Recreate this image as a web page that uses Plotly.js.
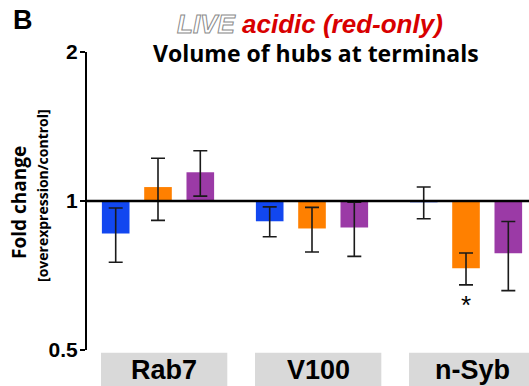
<!DOCTYPE html>
<html>
<head>
<meta charset="utf-8">
<script src="https://cdn.plot.ly/plotly-3.0.1.min.js"></script>
<style>html,body{margin:0;padding:0;background:#fff;}#chart{width:529px;height:386px;}</style>
</head>
<body>
<div id="chart"></div>
<script>
const categories = ['Rab7', 'V100', 'n-Syb'];
const seriesNames = ['blue', 'orange', 'purple'];
const blueVals = [0.86, 0.91, 0.994];
const blueErr = [0.108, 0.063, 0.073];
const orangeVals = [1.067, 0.88, 0.731];
const orangeErr = [0.153, 0.091, 0.054];
const purpleVals = [1.143, 0.884, 0.784];
const purpleErr = [0.12, 0.111, 0.125];
const yTicks = [0.5, 1, 2];
const yTickText = ['0.5', '1', '2'];
const baseline = 1;
const sigCategory = 'n-Syb';

const colors = ['#1247f0', '#ff8000', '#9b3aa6'];
const vals = [blueVals, orangeVals, purpleVals];
const errs = [blueErr, orangeErr, purpleErr];

const traces = vals.map((v, k) => ({
  type: 'bar',
  name: seriesNames[k],
  x: categories,
  y: v.map(d => d - baseline),
  base: baseline,
  marker: {color: colors[k], line: {width: 0}},
  error_y: {type: 'data', array: errs[k], visible: true, color: '#1a1a1a', thickness: 1.6, width: 7},
  hoverinfo: 'skip'
}));

const arial = 'Arial, "Liberation Sans", sans-serif';
const humanist = '"Open Sans", Lato, sans-serif';
const yMin = Math.log10(yTicks[0]), yMax = Math.log10(yTicks[yTicks.length - 1]);
const basePaper = (Math.log10(baseline) - yMin) / (yMax - yMin);
const shapes = [
  {type: 'line', xref: 'paper', x0: 0, x1: 1, yref: 'paper', y0: basePaper, y1: basePaper,
   line: {color: '#000', width: 2.5}, layer: 'above'}
];
const annotations = [];
categories.forEach((c, i) => {
  shapes.push({type: 'rect', xref: 'x', x0: i - 0.37, x1: i + 0.45, yref: 'paper', y0: -0.125, y1: -0.009,
    fillcolor: '#d9d9d9', line: {width: 0}, layer: 'below'});
  annotations.push({xref: 'x', x: i + 0.04, yref: 'paper', y: -0.068, yanchor: 'middle', xanchor: 'center',
    text: '<b>' + c + '</b>', showarrow: false, font: {family: arial, size: 27, color: '#000'}});
});
const sigIdx = categories.indexOf(sigCategory);
annotations.push({xref: 'x', x: sigCategory, yref: 'y', y: Math.log10(orangeVals[sigIdx] - orangeErr[sigIdx]),
  yanchor: 'top', yshift: -3, text: '*', showarrow: false,
  font: {family: arial, size: 26, color: '#000'}});
annotations.push({xref: 'paper', x: -0.144, yref: 'paper', y: 1.107, xanchor: 'center', yanchor: 'middle',
  text: '<b>B</b>', showarrow: false, font: {family: arial, size: 27, color: '#000'}});
annotations.push({xref: 'paper', x: (310 - 87) / 442, yref: 'paper', y: (350 - 24) / 298, xanchor: 'center', yanchor: 'middle',
  text: '<i><b><span style="fill:#ffffff;stroke:#8a8a8a;stroke-width:1px">LIVE</span> <span style="fill:#d80000">acidic (red-only)</span></b></i>',
  showarrow: false, font: {family: arial, size: 26, color: '#d80000'}});
annotations.push({xref: 'paper', x: (316 - 87) / 442, yref: 'paper', y: (350 - 53) / 298, xanchor: 'center', yanchor: 'middle',
  text: '<b>Volume of hubs at terminals</b>', showarrow: false,
  font: {family: humanist, size: 23, color: '#000'}});
annotations.push({xref: 'paper', x: (19 - 87) / 442, yref: 'paper', y: (350 - 203) / 298, xanchor: 'center', yanchor: 'middle',
  textangle: -90, text: '<b>Fold change</b>', showarrow: false,
  font: {family: humanist, size: 19, color: '#000'}});
annotations.push({xref: 'paper', x: (42 - 87) / 442, yref: 'paper', y: (350 - 196) / 298, xanchor: 'center', yanchor: 'middle',
  textangle: -90, text: '<b>[overexpression/control]</b>', showarrow: false,
  font: {family: humanist, size: 14, color: '#000'}});

const layout = {
  width: 529, height: 386,
  margin: {l: 87, r: 0, t: 52, b: 36},
  paper_bgcolor: '#fff', plot_bgcolor: '#fff',
  showlegend: false,
  barmode: 'group', bargap: 0.176, bargroupgap: 0.347,
  xaxis: {type: 'category', range: [-0.461, 2.409], showticklabels: false, showline: false,
          showgrid: false, zeroline: false, ticks: ''},
  yaxis: {type: 'log', range: [yMin, yMax],
          tickvals: yTicks, ticktext: yTickText.map(t => '<b>' + t + '</b>'), ticks: 'outside', ticklen: 5, tickwidth: 2, tickcolor: '#000',
          ticklabelstandoff: -2,
          showline: true, linewidth: 2, linecolor: '#000', showgrid: false, zeroline: false,
          tickfont: {family: arial, size: 21, color: '#000'}},
  shapes: shapes,
  annotations: annotations
};
Plotly.newPlot('chart', traces, layout, {displayModeBar: false, staticPlot: true});
</script>
</body>
</html>
